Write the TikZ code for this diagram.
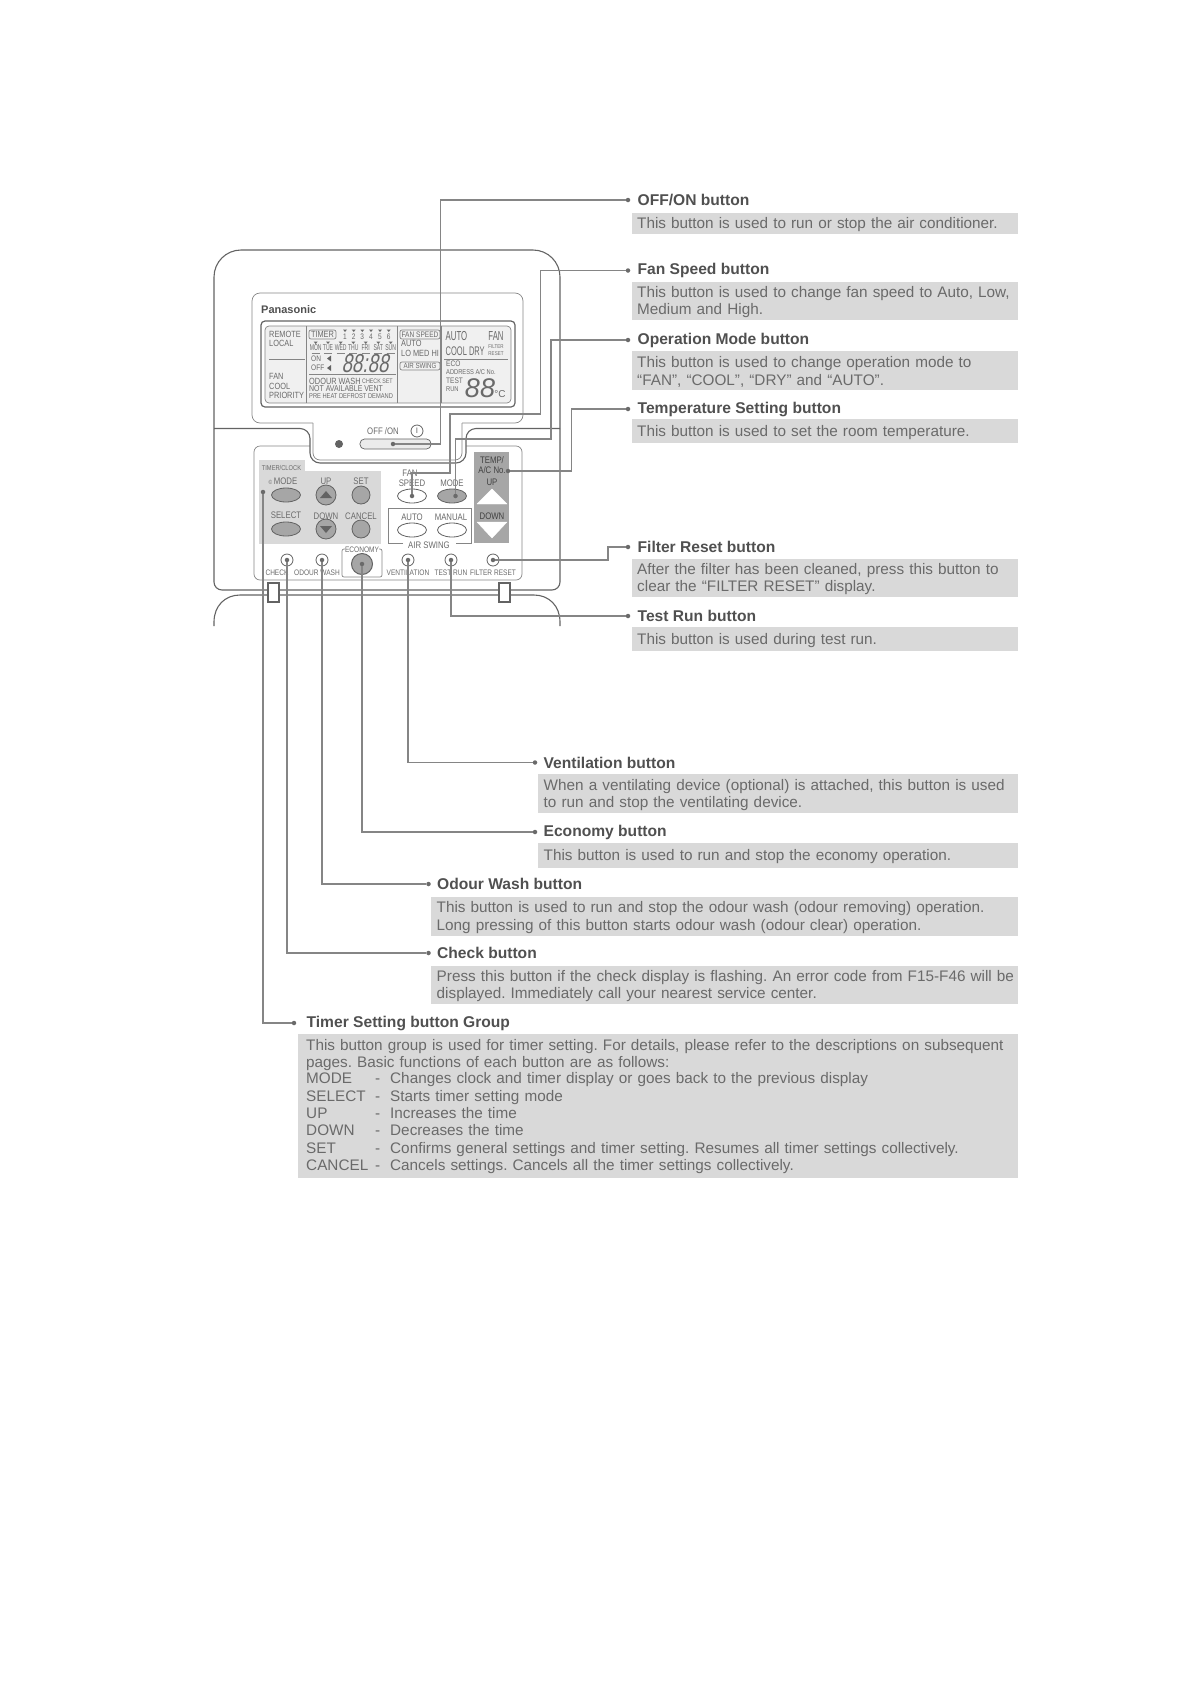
\documentclass[tikz,border=0pt]{standalone}
\usepackage{fontspec}
\setmainfont{Liberation Sans}
\setsansfont{Liberation Sans}
\newfontfamily\narrowsans[FakeStretch=0.82]{Liberation Sans}
\newfontfamily\tallsans[FakeStretch=0.6]{Liberation Sans}
\newfontfamily\digitsans[FakeStretch=0.72,FakeSlant=0.2]{Liberation Sans}
\usetikzlibrary{positioning, shapes.geometric}
\definecolor{boxGray}{HTML}{D9D9D9}
\definecolor{bodyGray}{HTML}{6A6A6A}
\definecolor{titleGray}{HTML}{505050}
\definecolor{lineGray}{HTML}{858585}
\definecolor{panelDark}{HTML}{636363}
\definecolor{btnGray}{HTML}{A6A6A6}

\begin{document}
\begin{tikzpicture}[
    x=1pt, y=-1pt,
    font=\sffamily,
    % Callout Styles
    titleText/.style={inner sep=0pt, text=titleGray, font=\sffamily\bfseries\fontsize{15.6}{17.3}\selectfont},
    descBox/.style={
        rectangle, fill=boxGray, anchor=north west, inner xsep=5.5pt, inner ysep=0pt, text width=#1,
        align=left, text=bodyGray, font=\sffamily\frenchspacing\fontsize{15.3}{17.3}\selectfont,
        execute at begin node={\rule{0pt}{13.5pt}}
    },
    % Leader Styles
    leader/.style={draw=lineGray, line width=1.1pt},
    leadDot/.style={circle, fill=lineGray!80!black, inner sep=0pt, minimum size=4.5pt},
    % Remote Styles
    bodyLine/.style={draw=panelDark, line width=1.1pt},
    thinLine/.style={draw=lineGray, line width=0.7pt},
    ovalBtn/.style={ellipse, draw=panelDark, line width=0.8pt, inner sep=0pt, minimum width=29pt, minimum height=14pt},
    roundBtn/.style={circle, draw=panelDark, line width=0.8pt, inner sep=0pt, minimum size=#1, fill=btnGray},
    smallBtn/.style={circle, draw=panelDark, line width=0.8pt, fill=white, inner sep=0pt, minimum size=12pt},
    panelText/.style={inner sep=0pt, text=bodyGray, font=\narrowsans\fontsize{9.5}{10}\selectfont},
    lcdText/.style={inner sep=0pt, text=bodyGray, anchor=west, font=\narrowsans\fontsize{9}{10}\selectfont},
    tinyText/.style={inner sep=0pt, text=bodyGray, font=\narrowsans\fontsize{6}{6.5}\selectfont},
    bigDigits/.style={inner sep=0pt, text=bodyGray, font=\sffamily\itshape\fontsize{#1}{#1}\selectfont}
]
    \useasboundingbox (0,0) rectangle (1190,1684);

    % --- REMOTE BODY ---
    \draw[bodyLine, rounded corners=27pt] (214,429) -- (214,250) -- (560,250) -- (560,429);
    \draw[bodyLine, rounded corners=8pt] (214,429) -- (214,590) -- (560,590) -- (560,429);
    \draw[bodyLine] (214,626) -- (214,622) .. controls (214,606) and (225,595) .. (240,595) -- (534,595)
        .. controls (549,595) and (560,606) .. (560,622) -- (560,626);

    % --- BUTTON PANEL ---
    \draw[thinLine, rounded corners=6pt] (254,446) rectangle (522,580);
    \fill[white, rounded corners=10pt] (310,429) -- (310,463) -- (466,463) -- (466,429) -- cycle;
    \draw[bodyLine, rounded corners=10pt] (214,428.5) -- (310,428.5) -- (310,463) -- (466,463) -- (466,428.5) -- (560,428.5);

    % Display Frame
    \draw[thinLine, rounded corners=8pt] (313,423) -- (252,423) -- (252,293) -- (523,293) -- (523,423) -- (462,423);
    \draw[thinLine, rounded corners=7pt] (313,423) -- (313,460) -- (462,460) -- (462,423);
    \node[inner sep=0pt, anchor=west, text=titleGray, font=\sffamily\bfseries\fontsize{11}{12}\selectfont] (brand) at (261,310) {Panasonic};

    % --- LCD ---
    \draw[draw=panelDark, line width=1.2pt, rounded corners=4pt] (261,321) rectangle (515,407);
    \draw[draw=lineGray, fill=black!6, line width=0.7pt, rounded corners=4pt] (265,326) rectangle (511,403);
    \draw[thinLine] (306.7,326) -- (306.7,403);
    \draw[thinLine] (397.7,326) -- (397.7,403);
    \draw[thinLine] (441.7,326) -- (441.7,403);

    % LCD Left
    \node[lcdText] (lcdRemote) at (269,334) {REMOTE};
    \node[lcdText] (lcdLocal) at (269,343) {LOCAL};
    \draw[thinLine] (269,359) -- (305,359);
    \node[lcdText] (lcdFan) at (269,376) {FAN};
    \node[lcdText] (lcdCool) at (269,386) {COOL};
    \node[lcdText] (lcdPriority) at (269,395.5) {PRIORITY};

    % LCD Timer
    \node[lcdText, anchor=center] (lcdTimer) at (322.5,334.5) {TIMER};
    \draw[thinLine, rounded corners=2pt] (309,330) rectangle (336,339);
    \foreach \n/\px in {1/345, 2/353.7, 3/362.3, 4/371, 5/380, 6/388.7} {
        \node[tinyText, font=\narrowsans\fontsize{8}{8}\selectfont] (num\n) at (\px,337) {\n};
        \fill[bodyGray] (\px-2,329.5) -- (\px+2,329.5) -- (\px,332) -- cycle;
    }
    \foreach \d/\px in {MON/315.7, TUE/328, WED/340.7, THU/353.3, FRI/365.7, SAT/378.3, SUN/390.7} {
        \node[tinyText, font=\tallsans\fontsize{8.5}{9}\selectfont] (day\d) at (\px,348) {\d};
        \fill[bodyGray] (\px-2,341.5) -- (\px+2,341.5) -- (\px,344) -- cycle;
        \draw[thinLine] (\px-4,353.5) -- (\px+4,353.5);
    }
    \node[lcdText, font=\narrowsans\fontsize{8}{8}\selectfont] (lcdOn) at (311,359) {ON};
    \node[lcdText, font=\narrowsans\fontsize{8}{8}\selectfont] (lcdOff) at (311,368) {OFF};
    \fill[panelDark] (327,358.5) -- (331,355.5) -- (331,361.5) -- cycle;
    \fill[panelDark] (327,368) -- (331,365) -- (331,371) -- cycle;
    \node[inner sep=0pt, text=bodyGray, font=\digitsans\fontsize{26}{26}\selectfont] (clockDigits) at (365,364) {88:88};
    \draw[thinLine] (309,374) -- (396,374);
    \node[lcdText] (lcdOdour) at (309,381) {ODOUR WASH};
    \node[lcdText, font=\narrowsans\fontsize{6.5}{7}\selectfont] (lcdCheck) at (362,381) {CHECK SET};
    \node[lcdText, font=\narrowsans\fontsize{8.5}{9}\selectfont] (lcdVent) at (309,389) {NOT AVAILABLE VENT};
    \node[lcdText, font=\narrowsans\fontsize{7}{8}\selectfont] (lcdPre) at (309,396.5) {PRE HEAT DEFROST DEMAND};

    % LCD Fan Speed
    \draw[thinLine, rounded corners=2pt] (400,330) rectangle (440,339);
    \node[lcdText, anchor=center, font=\narrowsans\fontsize{8}{8}\selectfont] (lcdSpeed) at (420,334.5) {FAN SPEED};
    \node[lcdText] (lcdAuto) at (401,343.5) {AUTO};
    \node[lcdText] (lcdLevels) at (401,353) {LO MED HI};
    \draw[thinLine, rounded corners=2pt] (400,362) rectangle (440,370);
    \node[lcdText, anchor=center, font=\narrowsans\fontsize{7.5}{8}\selectfont] (lcdSwing) at (420,366) {AIR SWING};

    % LCD Right
    \node[lcdText, font=\tallsans\fontsize{13}{13}\selectfont] (lcdMode) at (445.5,336) {AUTO};
    \node[lcdText, anchor=center, font=\tallsans\fontsize{13}{13}\selectfont] (lcdFanMode) at (496,336) {FAN};
    \node[lcdText, font=\tallsans\fontsize{12.5}{13}\selectfont] (lcdCoolDry) at (445.5,351) {COOL DRY};
    \node[tinyText, font=\narrowsans\fontsize{5.5}{6}\selectfont] (lcdFilter) at (496,346.5) {FILTER};
    \node[tinyText, font=\narrowsans\fontsize{5.5}{6}\selectfont] (lcdReset) at (496,354) {RESET};
    \draw[thinLine] (444,359) -- (508,359);
    \node[lcdText, font=\narrowsans\fontsize{8}{8}\selectfont] (lcdEco) at (446,364) {ECO};
    \node[lcdText, font=\narrowsans\fontsize{7}{8}\selectfont] (lcdAddress) at (446,372) {ADDRESS A/C No.};
    \node[lcdText, font=\narrowsans\fontsize{8}{8}\selectfont] (lcdTest) at (446,381) {TEST};
    \node[lcdText, font=\narrowsans\fontsize{7}{8}\selectfont] (lcdRun) at (446,389) {RUN};
    \node[bigDigits=27] (tempDigits) at (480,388) {88};
    \node[lcdText, anchor=center, font=\sffamily\fontsize{10}{10}\selectfont] (lcdDeg) at (500,394) {°C};

    % --- OFF/ON ---
    \node[panelText] (offLabel) at (383,431) {OFF /ON};
    \node[circle, draw=panelDark, line width=0.8pt, inner sep=0pt, minimum size=12pt, text=panelDark, font=\sffamily\fontsize{8}{8}\selectfont] (powerMark) at (417,431) {I};
    \node[circle, fill=panelDark, inner sep=0pt, minimum size=8pt] (lamp) at (339,444) {};
    \node[rectangle, rounded corners=4.5pt, draw=panelDark, fill=black!8, line width=0.7pt, inner sep=0pt, minimum width=71pt, minimum height=10pt] (offBtn) at (395.5,444) {};

    % --- TIMER GROUP ---
    \fill[boxGray] (259,460) rectangle (305,471);
    \fill[boxGray] (259,471) rectangle (381,544);
    \node[tinyText, font=\narrowsans\fontsize{7}{8}\selectfont] (timerTab) at (281.5,467.5) {TIMER/CLOCK};
    \node[panelText, font=\narrowsans\fontsize{9.5}{10}\selectfont] (modeLabel) at (283,481) {{\fontsize{6}{6}\selectfont\textcopyright}\,MODE};
    \node[ovalBtn, fill=btnGray] (modeBtn) at (286,495) {};
    \node[ovalBtn, fill=btnGray] (selectBtn) at (286,529) {};
    \node[panelText, above=2.5pt of selectBtn] (selectLabel) {SELECT};
    \node[roundBtn=20pt] (upBtn) at (326,495) {};
    \node[roundBtn=20pt] (downBtn) at (326,529) {};
    \fill[panelDark] (320,498) -- (332,498) -- (326,491) -- cycle;
    \fill[panelDark] (320,526) -- (332,526) -- (326,533) -- cycle;
    \node[panelText] (upLabel) at (326,481) {UP};
    \node[panelText] (downLabel) at (326,516) {DOWN};
    \node[roundBtn=18pt] (setBtn) at (361,495) {};
    \node[roundBtn=18pt] (cancelBtn) at (361,529) {};
    \node[panelText] (setLabel) at (361,481) {SET};
    \node[panelText] (cancelLabel) at (361,516) {CANCEL};

    % --- FAN SPEED, MODE ---
    \node[panelText] (fanLabel) at (410,473) {FAN};
    \node[panelText] (speedLabel) at (412,483) {SPEED};
    \node[ovalBtn, fill=white] (fanBtn) at (412,496) {};
    \node[panelText] (modeTwoLabel) at (452,483) {MODE};
    \node[ovalBtn, fill=btnGray] (opModeBtn) at (452,496) {};

    % --- AIR SWING ---
    \draw[thinLine] (403,543) -- (388,543) -- (388,508) -- (471,508) -- (471,543) -- (456,543);
    \node[panelText] (swingAuto) at (412,517) {AUTO};
    \node[panelText] (swingManual) at (451,517) {MANUAL};
    \node[ovalBtn, fill=white] (swingAutoBtn) at (412,530) {};
    \node[ovalBtn, fill=white] (swingManualBtn) at (452,530) {};
    \node[panelText] (swingLabel) at (429,545) {AIR SWING};

    % --- TEMP ---
    \fill[black!35] (474,452) rectangle (509,543);
    \node[panelText, align=center, text=black!75] (tempLabel) at (492,465) {TEMP/\\A/C No.};
    \node[panelText, text=black!75] (tempUp) at (492,482) {UP};
    \node[panelText, text=black!75] (tempDown) at (492,516) {DOWN};
    \draw[fill=white, draw=white, line join=round] (477,504) -- (507,504) -- (492,489) -- cycle;
    \draw[fill=white, draw=white, line join=round] (477,522) -- (507,522) -- (492,538) -- cycle;

    % --- BOTTOM ROW ---
    \foreach \name/\px in {check/287, odour/322, vent/408, test/451, filter/493} {
        \node[smallBtn] (\name Btn) at (\px,560) {};
    }
    \draw[thinLine, rounded corners=2pt] (342,549) rectangle (382,577);
    \node[roundBtn=21pt, line width=1pt] (ecoBtn) at (362,564) {};
    \node[panelText, fill=white, font=\narrowsans\fontsize{8}{9}\selectfont] (ecoLabel) at (362,550) {ECONOMY};
    \foreach \name/\px/\txt in {check/277/CHECK, odour/317/ODOUR WASH, vent/408/VENTILATION, test/451/TEST RUN, filter/493/FILTER RESET} {
        \node[panelText, font=\narrowsans\fontsize{8}{9}\selectfont] (\name Label) at (\px,573) {\txt};
    }

    % Hinges
    \draw[bodyLine, fill=white] (268,583) rectangle (279,602);
    \draw[bodyLine, fill=white] (499,583) rectangle (510,602);

    % --- LEADER DOTS ---
    \node[leadDot] (offStart) at (393,444) {};
    \node[leadDot] (fanStart) at (412,496) {};
    \node[leadDot] (opStart) at (455.5,496) {};
    \node[leadDot] (tempStart) at (508,471) {};
    \node[leadDot] (filterStart) at (493,560) {};
    \node[leadDot] (testStart) at (451,560) {};
    \node[leadDot] (ventStart) at (408,560) {};
    \node[leadDot] (ecoStart) at (362,564) {};
    \node[leadDot] (odourStart) at (322,560) {};
    \node[leadDot] (checkStart) at (287,560) {};
    \node[leadDot] (timerStart) at (263,492) {};

    \node[leadDot] (offEnd) at (628,200) {};
    \node[leadDot] (fanEnd) at (628,270.5) {};
    \node[leadDot] (opEnd) at (628,340) {};
    \node[leadDot] (tempEnd) at (628,409) {};
    \node[leadDot] (filterEnd) at (628,547) {};
    \node[leadDot] (testEnd) at (628,616) {};
    \node[leadDot] (ventEnd) at (535,762.5) {};
    \node[leadDot] (ecoEnd) at (535,832) {};
    \node[leadDot] (odourEnd) at (428.5,884) {};
    \node[leadDot] (checkEnd) at (428.5,953) {};
    \node[leadDot] (timerEnd) at (294,1023) {};

    % --- LEADERS ---
    \coordinate (offBend) at (440.7,200);
    \coordinate (fanBendA) at (450,473);
    \coordinate (fanBendB) at (540.7,414);
    \coordinate (opBendA) at (551,439);
    \coordinate (tempBend) at (571.7,409);
    \coordinate (filterBend) at (608,547);
    \draw[leader] (offStart) -| (offBend) -- (offEnd);
    \draw[leader] (fanStart) |- (fanBendA) |- (fanBendB) |- (fanEnd);
    \draw[leader] (opStart) |- (opBendA) |- (opEnd);
    \draw[leader] (tempStart) -| (tempBend) -- (tempEnd);
    \draw[leader] (filterStart) -| (filterBend) -- (filterEnd);
    \draw[leader] (testStart) |- (testEnd);
    \draw[leader] (ventStart) |- (ventEnd);
    \draw[leader] (ecoStart) |- (ecoEnd);
    \draw[leader] (odourStart) |- (odourEnd);
    \draw[leader] (checkStart) |- (checkEnd);
    \draw[leader] (timerStart) |- (timerEnd);

    % --- CALLOUTS ---
    \node[titleText, right=7pt of offEnd] (offTitle) {OFF/ON button};
    \node[descBox=375.5pt, minimum height=21.5pt] (offDesc) at (631.5,212.5) {This button is used to run or stop the air conditioner.};

    \node[titleText, right=7pt of fanEnd] (fanTitle) {Fan Speed button};
    \node[descBox=375.5pt, minimum height=38.5pt] (fanDesc) at (631.5,281.5) {This button is used to change fan speed to Auto, Low,\\Medium and High.};

    \node[titleText, right=7pt of opEnd] (opTitle) {Operation Mode button};
    \node[descBox=375.5pt, minimum height=39pt] (opDesc) at (631.5,351) {This button is used to change operation mode to\\“FAN”, “COOL”, “DRY” and “AUTO”.};

    \node[titleText, right=7pt of tempEnd] (tempTitle) {Temperature Setting button};
    \node[descBox=375.5pt, minimum height=23.5pt] (tempDesc) at (631.5,419) {This button is used to set the room temperature.};

    \node[titleText, right=7pt of filterEnd] (filterTitle) {Filter Reset button};
    \node[descBox=375.5pt, minimum height=38.5pt] (filterDesc) at (631.5,558.5) {After the filter has been cleaned, press this button to\\clear the “FILTER RESET” display.};

    \node[titleText, right=7pt of testEnd] (testTitle) {Test Run button};
    \node[descBox=375.5pt, minimum height=24pt] (testDesc) at (631.5,627) {This button is used during test run.};

    \node[titleText, right=6pt of ventEnd] (ventTitle) {Ventilation button};
    \node[descBox=469pt, minimum height=39pt] (ventDesc) at (538,774) {When a ventilating device (optional) is attached, this button is used\\to run and stop the ventilating device.};

    \node[titleText, right=6pt of ecoEnd] (ecoTitle) {Economy button};
    \node[descBox=469pt, minimum height=25pt] (ecoDesc) at (538,843) {This button is used to run and stop the economy operation.};

    \node[titleText, right=6pt of odourEnd] (odourTitle) {Odour Wash button};
    \node[descBox=576pt, minimum height=38.5pt] (odourDesc) at (431,897) {This button is used to run and stop the odour wash (odour removing) operation.\\Long pressing of this button starts odour wash (odour clear) operation.};

    \node[titleText, right=6pt of checkEnd] (checkTitle) {Check button};
    \node[descBox=576pt, minimum height=38.5pt] (checkDesc) at (431,965.5) {\mbox{Press this button if the check display is flashing. An error code from F15-F46 will be}\\displayed. Immediately call your nearest service center.};

    \node[titleText, right=10pt of timerEnd] (timerTitle) {Timer Setting button Group};
    \node[descBox=703.5pt, inner xsep=8.5pt, minimum height=144pt] (timerDesc) at (297.5,1034) {This button group is used for timer setting. For details, please refer to the descriptions on subsequent\\
        pages. Basic functions of each button are as follows:\\
        \begin{tabular}{@{}p{69pt}@{}p{15pt}@{}l@{}}
            MODE & - & Changes clock and timer display or goes back to the previous display\\
            SELECT & - & Starts timer setting mode\\
            UP & - & Increases the time\\
            DOWN & - & Decreases the time\\
            SET & - & Confirms general settings and timer setting. Resumes all timer settings collectively.\\
            CANCEL & - & Cancels settings. Cancels all the timer settings collectively.
        \end{tabular}};

\end{tikzpicture}
\end{document}
